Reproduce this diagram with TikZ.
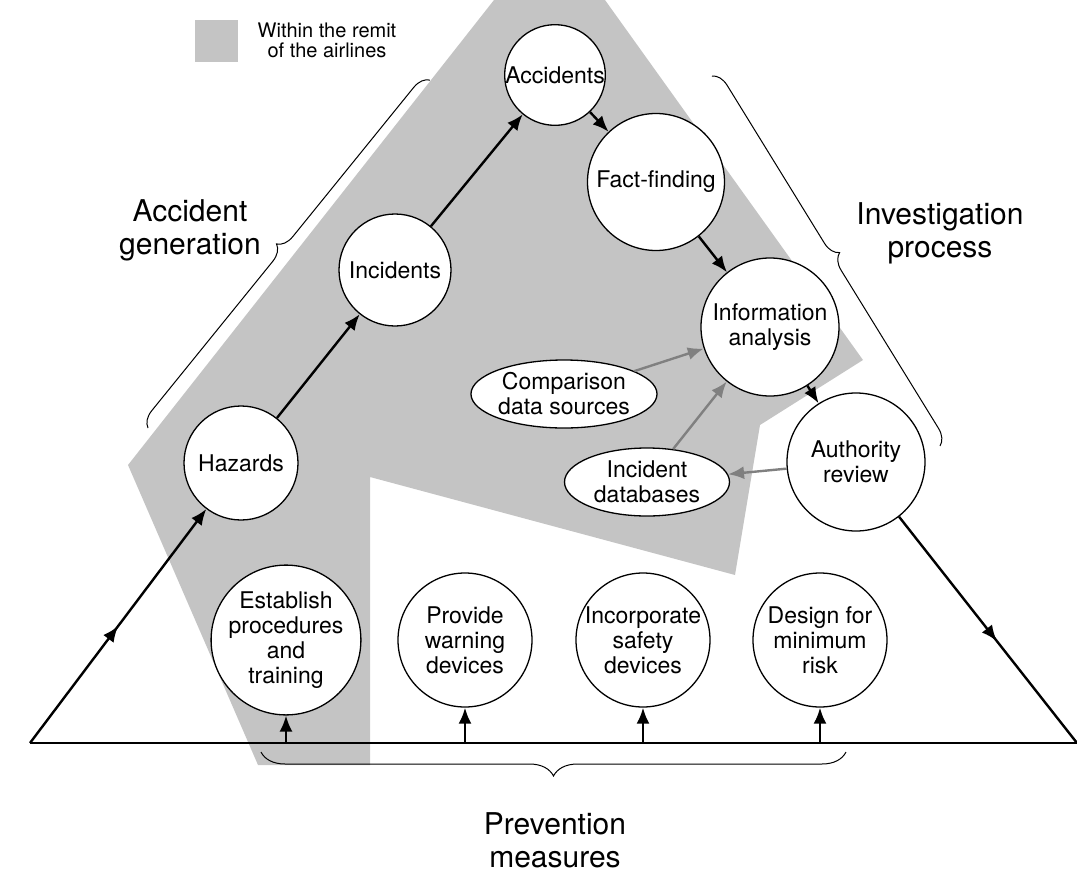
\documentclass[tikz,border=0pt]{standalone}
\usepackage{fontspec}
\setmainfont{TeX Gyre Heros}
\usetikzlibrary{arrows.meta,shapes.geometric,decorations.pathreplacing,decorations.markings}
\definecolor{remit}{gray}{0.77}
\definecolor{grayarrow}{gray}{0.5}
\begin{document}
\begin{tikzpicture}[x=1pt,y=-1pt,>={Latex[length=16pt,width=13pt]},
  stage/.style={circle,draw,fill=white,line width=1.3pt,inner sep=0pt,font=\fontsize{23}{25}\selectfont,align=center},
  source/.style={ellipse,draw,fill=white,line width=1.3pt,inner sep=0pt,font=\fontsize{23}{25}\selectfont,align=center},
  flow/.style={->,line width=2.4pt},
  feed/.style={->,line width=2.4pt,draw=grayarrow},
  brace/.style={decorate,decoration={brace,amplitude=#1},line width=1pt},
  brace/.default=16pt,
  big/.style={font=\fontsize{30}{33}\selectfont,align=center},
  midarrow/.style={decoration={markings,mark=at position #1 with {\arrow{Latex[length=16pt,width=13pt]}}},postaction={decorate}}]
\useasboundingbox (0,0) rectangle (1077,892);

% area of the airlines
\fill[remit] (494,0) -- (605,0) -- (863,360) -- (760,425) -- (735,575) -- (370,477)
  -- (370,765) -- (258,765) -- (128,465) -- cycle;
\fill[remit] (195,20) rectangle (238,62);
\node[font=\fontsize{20}{20}\selectfont,align=center] (legend) at (327,40) {Within the remit\\of the airlines};

% stages
\node[stage,minimum size=90pt] (acc) at (555,75) {Accidents};
\node[stage,minimum size=137pt] (fact) at (656,182) {Fact-finding};
\node[stage,minimum size=112pt] (inc) at (395,270) {Incidents};
\node[stage,minimum size=138pt] (info) at (770,327) {Information\\analysis};
\node[stage,minimum size=114pt] (haz) at (241,463) {Hazards};
\node[stage,minimum size=138pt] (auth) at (856,462) {Authority\\review};
\node[source,minimum width=165pt,minimum height=68pt] (comp) at (564,394) {Comparison\\data sources};
\node[source,minimum width=165pt,minimum height=68pt] (idb) at (647,482) {Incident\\databases};

% prevention measures
\node[stage,minimum size=134pt] (est) at (286,640) {Establish\\procedures\\and\\training};
\node[stage,minimum size=134pt] (warn) at (465,640) {Provide\\warning\\devices};
\node[stage,minimum size=134pt] (safe) at (643,640) {Incorporate\\safety\\devices};
\node[stage,minimum size=134pt] (min) at (820,640) {Design for\\minimum\\risk};

% triangle
\coordinate (bl) at (30,743);
\coordinate (br) at (1077,743);
\draw[line width=2.4pt] (bl) -- (br);
\draw[flow,midarrow=0.5] (bl) -- (haz);
\draw[flow] (haz) -- (inc);
\draw[flow] (inc) -- (acc);
\draw[flow] (acc) -- (fact);
\draw[flow] (fact) -- (info);
\draw[flow] (info) -- (auth);
\draw[line width=2.4pt,midarrow=0.55] (auth) -- (br);
\draw[feed] (comp) -- (info);
\draw[feed] (idb) -- (info);
\draw[feed] (auth) -- (idb);
\foreach \m in {est,warn,safe,min}
  \draw[flow] (\m |- bl) -- (\m);

% braces
\draw[brace] (148,428) -- (430,80);
\draw[brace] (712,76) -- (940,446);
\draw[brace=24pt] (846,752) -- (261,752);
\node[big] (gen) at (190,230) {Accident\\generation};
\node[big] (inv) at (940,233) {Investigation\\process};
\node[big] (prev) at (555,840) {Prevention\\measures};
\end{tikzpicture}
\end{document}
